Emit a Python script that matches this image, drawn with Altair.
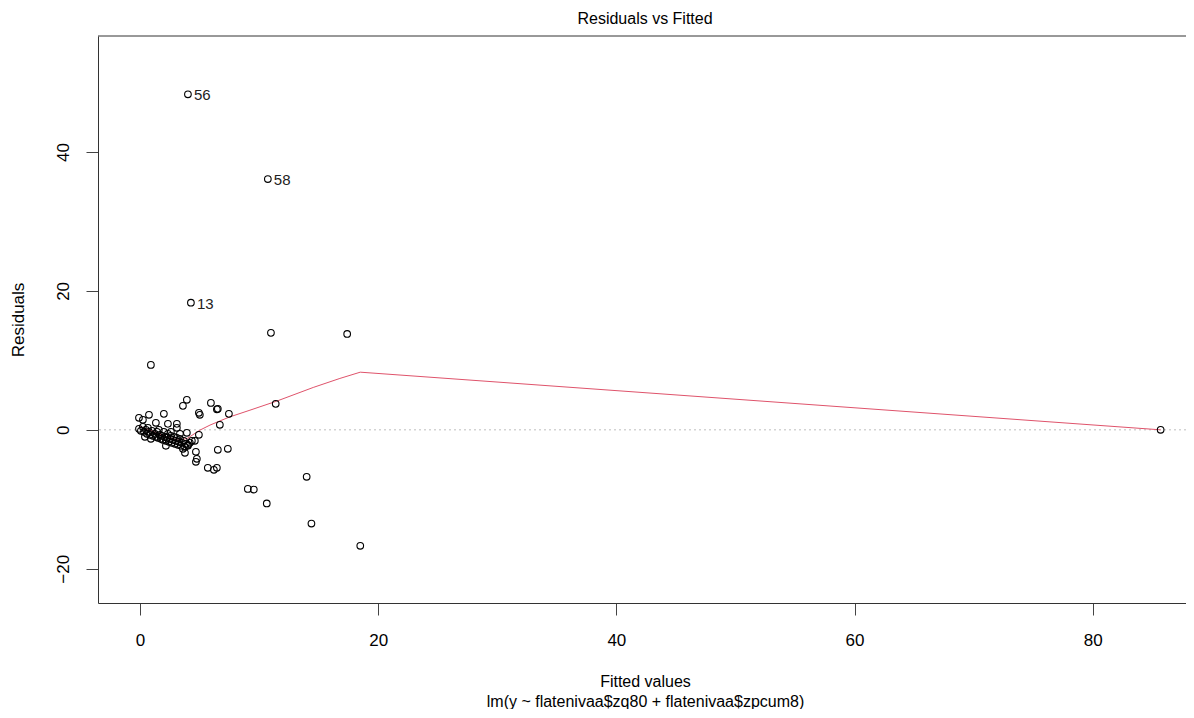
import altair as alt
import pandas as pd

# Scatter points: fitted values and residuals
fitted = [4.03, 10.74, 4.28, 0.92, 11.0, 17.4, 11.4, 85.7, 14.0, 9.06, 9.56, 10.65, 14.4, 18.5,
          3.94, 3.61, 5.96, 6.54, 6.46, 4.95, 5.03, 7.47, 0.76, 2.01, -0.08, 0.25, 1.34, 2.35,
          3.10, 3.10, 6.71, 3.94, 4.95, 4.36, 4.03, 6.54, 7.38, 4.70, 3.61, 4.78, 4.70, 5.70,
          6.46, 6.21, 3.78, 4.61,
          -0.08, 0.08, 0.25, 0.34, 0.50, 0.59, 0.76, 0.84, 1.01, 1.09, 1.26, 1.34, 1.43, 1.51,
          1.68, 1.76, 1.85, 1.93, 2.10, 2.18, 2.27, 2.35, 2.43, 2.52, 2.60, 2.68, 2.77, 2.85,
          2.94, 3.02, 3.10, 3.19, 3.27, 3.36, 3.44, 3.52, 3.69, 3.78, 3.86, 4.03, 4.19, 0.67,
          1.59, 2.01, 2.60, 3.36, 0.42, 0.92, 2.18]
resid = [48.3, 36.1, 18.3, 9.35, 13.96, 13.8, 3.74, 0.0, -6.76, -8.5, -8.6, -10.6, -13.5, -16.7,
         4.32, 3.45, 3.88, 3.02, 2.95, 2.45, 2.16, 2.30, 2.16, 2.30, 1.73, 1.44, 1.01, 0.86,
         0.86, 0.29, 0.72, -0.43, -0.72, -1.58, -2.16, -2.88, -2.73, -3.17, -2.73, -4.17, -4.60, -5.47,
         -5.47, -5.76, -3.31, -1.58,
         0.14, -0.14, 0.43, -0.29, 0.0, -0.58, -0.29, -0.72, -0.14, -0.86, -0.58, -1.01, -0.29, -1.15,
         -0.72, -1.29, -0.86, -1.44, -1.01, -1.58, -1.15, -0.58, -1.73, -1.29, -0.86, -1.87, -1.44, -1.01,
         -2.01, -1.58, -1.15, -2.16, -1.73, -1.29, -2.30, -1.87, -1.58, -2.45, -2.01, -2.30, -1.87, 0.29,
         0.0, -0.29, -0.29, -0.58, -1.01, -1.29, -2.30]
point_labels = ["56", "58", "13"] + [""] * (len(fitted) - 3)

# Smoothed (loess) red line
smooth_x = [-0.06, 0.84, 2.24, 3.21, 3.97, 5.04, 5.88, 6.72, 7.56, 9.24, 11.48, 14.55, 16.79, 18.5, 85.7]
smooth_y = [0.53, -0.04, -1.0, -1.48, -1.24, -0.04, 0.68, 1.29, 1.87, 2.83, 4.13, 6.1, 7.4, 8.3, 0.0]

x_ticks = [0, 20, 40, 60, 80]
y_ticks = [-20, 0, 20, 40]
title_text = ["Residuals vs Fitted"]

FONT = "Liberation Sans"
W, H = 1088, 567

df = pd.DataFrame({"fitted": fitted, "resid": resid, "label": point_labels})
sm = pd.DataFrame({"fitted": smooth_x, "resid": smooth_y, "order": list(range(len(smooth_x)))})
zero = pd.DataFrame({"resid": [0.0]})
ttl = pd.DataFrame({"t": title_text})

xs = alt.Scale(domain=[-3.52, 87.83], nice=False, zero=False)
ys = alt.Scale(domain=[-24.93, 56.7], nice=False, zero=False)

x_enc = alt.X(
    "fitted:Q", scale=xs,
    axis=alt.Axis(
        values=x_ticks, grid=False, tickSize=12, labelPadding=17, labelFontSize=17,
        labelFont=FONT, labelColor="black", tickColor="#444", domainColor="#333",
        title=["Fitted values", "lm(y ~ flatenivaa$zq80 + flatenivaa$zpcum8)"],
        titleFont=FONT, titleFontSize=16, titleFontWeight="normal", titleColor="black",
        titleX=547, titleY=70, titleBaseline="top", titleAlign="center", titleLineHeight=20,
    ),
)
y_enc = alt.Y(
    "resid:Q", scale=ys,
    axis=alt.Axis(
        values=y_ticks, grid=False, tickSize=12, labelPadding=14, labelFontSize=17,
        labelFont=FONT, labelColor="black", labelAngle=270, labelAlign="center",
        labelBaseline="bottom", tickColor="#444", domainColor="#333",
        title="Residuals", titleFont=FONT, titleFontSize=17, titleFontWeight="normal",
        titleColor="black", titleAngle=270, titleX=-80, titleY=H / 2,
        titleAlign="center", titleBaseline="middle",
    ),
)

zero_line = alt.Chart(zero).mark_rule(color="#BEBEBE", strokeDash=[2, 3], strokeWidth=1).encode(
    y=alt.Y("resid:Q", scale=ys)
)

smooth = alt.Chart(sm).mark_line(color="#DF536B", strokeWidth=1).encode(
    x=alt.X("fitted:Q", scale=xs), y=alt.Y("resid:Q", scale=ys), order="order:Q"
)

points = alt.Chart(df).mark_point(
    shape="circle", size=44, filled=False, color="black", strokeWidth=1.1, opacity=1
).encode(x=x_enc, y=y_enc)

labels = alt.Chart(df).transform_filter(alt.datum.label != "").mark_text(
    align="left", baseline="middle", dx=6, dy=1, fontSize=15, font=FONT, color="#222"
).encode(x=alt.X("fitted:Q", scale=xs), y=alt.Y("resid:Q", scale=ys), text="label:N")

top_border = alt.Chart(zero).mark_rule(color="#333", strokeWidth=1).encode(
    x=alt.value(0), x2=alt.value(W), y=alt.value(0)
)

title = alt.Chart(ttl).mark_text(
    font=FONT, fontSize=16, color="black", align="center", baseline="middle"
).encode(x=alt.value(547), y=alt.value(-17), text="t:N")

chart = alt.layer(zero_line, smooth, points, labels, top_border, title).properties(
    width=W, height=H,
    autosize=alt.AutoSizeParams(type="none"),
    padding={"left": 90, "top": 28, "right": 0, "bottom": 106},
).configure_view(stroke=None).configure_axis(domainWidth=1, tickWidth=1)

chart.save("out.html", embed_options={"renderer": "svg", "actions": False})
